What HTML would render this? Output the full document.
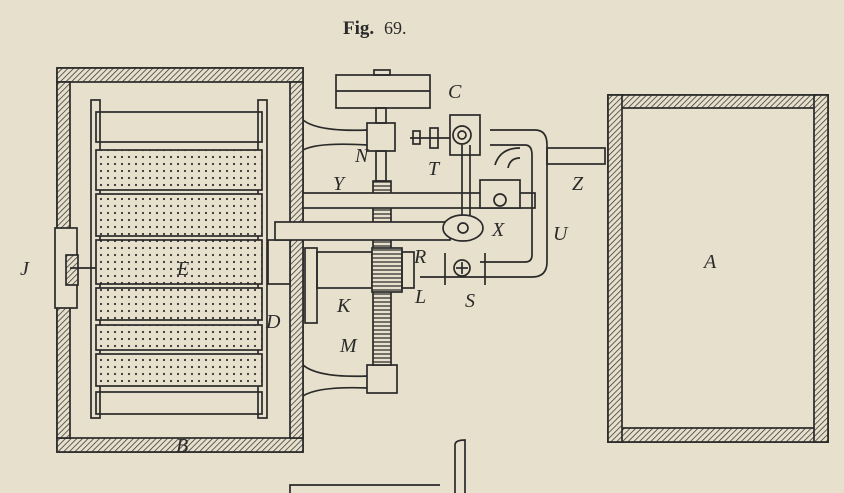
<!DOCTYPE html><html><head><style>body{margin:0;background:#e7e0cc}svg{display:block}text{font-family:"Liberation Serif",serif;fill:#2a2a2a}.i{font-style:italic}</style></head><body>
<svg width="844" height="493" viewBox="0 0 844 493" xmlns="http://www.w3.org/2000/svg">
<defs>
<pattern id="h" width="4" height="4" patternUnits="userSpaceOnUse" patternTransform="rotate(45)"><rect width="4" height="4" fill="#e7e0cc"/><line x1="0" y1="0" x2="0" y2="4" stroke="#333" stroke-width="1.5"/></pattern>
<pattern id="d" width="7" height="7" patternUnits="userSpaceOnUse"><rect width="7" height="7" fill="#e7e0cc"/><circle cx="3" cy="3" r="1.1" fill="#333"/></pattern>
<pattern id="w" width="6" height="4" patternUnits="userSpaceOnUse"><rect width="6" height="4" fill="#e7e0cc"/><line x1="0" y1="2" x2="6" y2="2" stroke="#333" stroke-width="1.3"/></pattern>
</defs>
<rect width="844" height="493" fill="#e7e0cc"/>
<text x="343" y="34" font-size="19" font-weight="bold">Fig.</text><text x="384" y="34" font-size="18">69.</text>
<g stroke="#2a2a2a" stroke-width="1.7" fill="none">
<rect x="57" y="68" width="246" height="384" fill="#e7e0cc"/>
<rect x="57" y="68" width="246" height="14" fill="url(#h)"/>
<rect x="57" y="438" width="246" height="14" fill="url(#h)"/>
<rect x="57" y="82" width="13" height="356" fill="url(#h)"/>
<rect x="290" y="82" width="13" height="356" fill="url(#h)"/>
<rect x="55" y="228" width="22" height="80" fill="#e7e0cc"/>
<rect x="66" y="255" width="12" height="30" fill="url(#h)"/>
<rect x="91" y="100" width="9" height="318"/>
<rect x="258" y="100" width="9" height="318"/>
<rect x="96" y="112" width="166" height="30"/>
<rect x="96" y="150" width="166" height="40" fill="url(#d)"/>
<rect x="96" y="194" width="166" height="42" fill="url(#d)"/>
<rect x="96" y="240" width="166" height="44" fill="url(#d)"/>
<rect x="96" y="288" width="166" height="32" fill="url(#d)"/>
<rect x="96" y="325" width="166" height="25" fill="url(#d)"/>
<rect x="96" y="354" width="166" height="32" fill="url(#d)"/>
<rect x="96" y="392" width="166" height="22"/>
<rect x="268" y="240" width="22" height="44" fill="#e7e0cc"/>
<line x1="70" y1="268" x2="96" y2="268"/>
<rect x="608" y="95" width="220" height="347"/>
<rect x="608" y="95" width="220" height="13" fill="url(#h)"/>
<rect x="608" y="428" width="220" height="14" fill="url(#h)"/>
<rect x="608" y="95" width="14" height="347" fill="url(#h)"/>
<rect x="814" y="95" width="14" height="347" fill="url(#h)"/>
<rect x="547" y="148" width="58" height="16" fill="#e7e0cc"/>
<rect x="336" y="75" width="94" height="33" fill="#e7e0cc"/>
<line x1="336" y1="91" x2="430" y2="91"/>
<rect x="374" y="70" width="16" height="5"/>
<path d="M303 120 Q318 132 368 130 L368 145 Q318 142 303 150"/>
<path d="M303 365 Q318 378 368 376 L368 388 Q318 386 303 396"/>
<rect x="367" y="123" width="28" height="28" fill="#e7e0cc"/>
<rect x="367" y="365" width="30" height="28" fill="#e7e0cc"/>
<rect x="376" y="108" width="10" height="15"/>
<rect x="376" y="151" width="10" height="30"/>
<rect x="373" y="181" width="18" height="184" fill="url(#w)"/>
<rect x="303" y="193" width="232" height="15" fill="#e7e0cc"/>
<path d="M490 130 L535 130 Q547 130 547 145 L547 262 Q547 277 532 277 L420 277 M490 145 L525 145 Q532 145 532 155 L532 255 Q532 262 525 262 L480 262" />
<path d="M495 165 Q500 148 520 148 M508 168 Q510 158 520 158"/>
<rect x="480" y="180" width="40" height="28" fill="#e7e0cc"/>
<circle cx="500" cy="200" r="6"/>
<rect x="450" y="115" width="30" height="40" fill="#e7e0cc"/>
<circle cx="462" cy="135" r="9"/><circle cx="462" cy="135" r="4"/>
<line x1="410" y1="138" x2="450" y2="138"/>
<rect x="430" y="128" width="8" height="20"/><rect x="413" y="131" width="7" height="13"/>
<line x1="462" y1="145" x2="462" y2="215"/><line x1="470" y1="145" x2="470" y2="215"/>
<rect x="275" y="222" width="175" height="18" fill="#e7e0cc"/>
<ellipse cx="463" cy="228" rx="20" ry="13" fill="#e7e0cc"/>
<circle cx="463" cy="228" r="5"/>
<rect x="305" y="248" width="12" height="75"/>
<rect x="317" y="252" width="55" height="36"/>
<rect x="372" y="248" width="30" height="44" fill="url(#w)"/>
<rect x="402" y="252" width="12" height="36"/>
<circle cx="462" cy="268" r="8"/>
<line x1="456" y1="268" x2="468" y2="268"/><line x1="462" y1="262" x2="462" y2="274"/>
<line x1="445" y1="253" x2="445" y2="285"/><line x1="485" y1="253" x2="485" y2="285"/>
<path d="M290 493 L290 485 L440 485 M455 493 L455 445 Q455 440 465 440 L465 493"/>
</g>
<g font-size="20" class="i">
<text x="448" y="98">C</text><text x="355" y="162">N</text><text x="428" y="175">T</text>
<text x="333" y="190">Y</text><text x="572" y="190">Z</text><text x="492" y="236">X</text>
<text x="553" y="240">U</text><text x="414" y="263">R</text><text x="415" y="303">L</text>
<text x="465" y="307">S</text><text x="337" y="312">K</text><text x="340" y="352">M</text>
<text x="20" y="275">J</text><text x="177" y="275">E</text><text x="266" y="328">D</text>
<text x="176" y="452">B</text><text x="704" y="268">A</text>
</g>
</svg></body></html>
